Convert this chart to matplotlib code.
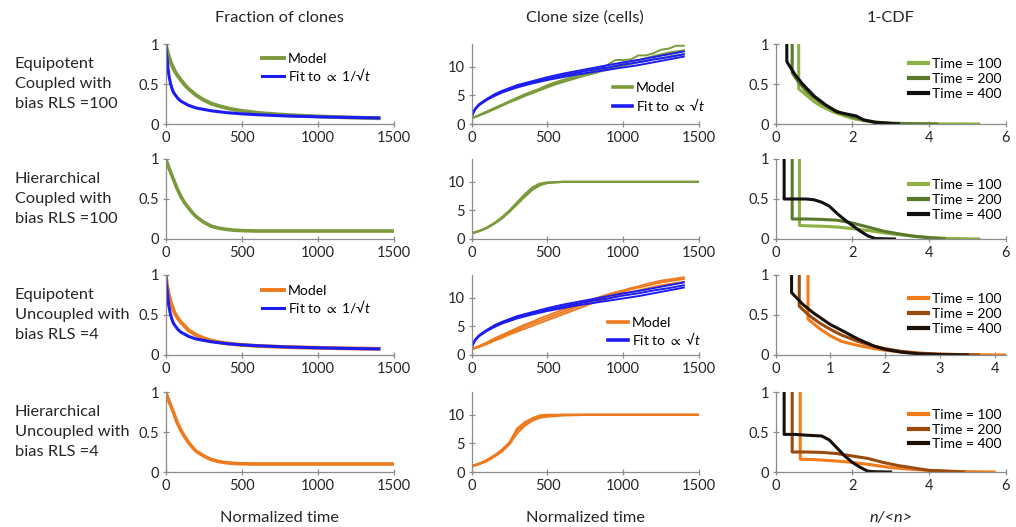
import matplotlib
matplotlib.use("Agg")
import matplotlib.pyplot as plt

plt.rcParams['font.family'] = ['Lato', 'DejaVu Sans']
plt.rcParams['mathtext.fontset'] = 'custom'
plt.rcParams['mathtext.it'] = 'Lato:italic'
plt.rcParams['mathtext.rm'] = 'Lato'
plt.rcParams['mathtext.fallback'] = 'stixsans'

# ---------------- data ----------------
row_labels = ["Equipotent\nCoupled with\nbias RLS =100",
              "Hierarchical\nCoupled with\nbias RLS =100",
              "Equipotent\nUncoupled with\nbias RLS =4",
              "Hierarchical\nUncoupled with\nbias RLS =4"]
col_titles = ["Fraction of clones", "Clone size (cells)", "1-CDF"]
col_xlabels = ["Normalized time", "Normalized time", "n/<n>"]
time_labels = ["Time = 100", "Time = 200", "Time = 400"]
model_label = "Model"
fit_frac_label = r"Fit to $\propto$ 1/√$t$"
fit_size_label = r"Fit to $\propto$ √$t$"

# fraction of clones (column 1)
t_frac = [0, 10, 20, 30, 40, 50, 60, 80, 100, 125, 150, 175, 200, 250, 300,
          350, 400, 450, 500, 600, 700, 800, 900, 1000, 1100, 1200, 1300, 1400]
frac_eq_coupled = [1.0, 0.92, 0.85, 0.79, 0.74, 0.70, 0.66, 0.60, 0.55, 0.49, 0.44,
                   0.40, 0.36, 0.30, 0.255, 0.225, 0.20, 0.18, 0.165, 0.14, 0.125,
                   0.112, 0.103, 0.095, 0.088, 0.082, 0.077, 0.072]
frac_eq_uncoupled = [1.0, 0.85, 0.76, 0.68, 0.62, 0.57, 0.52, 0.46, 0.41, 0.36, 0.31,
                     0.28, 0.25, 0.21, 0.18, 0.16, 0.145, 0.135, 0.126, 0.114, 0.106,
                     0.099, 0.094, 0.090, 0.086, 0.083, 0.080, 0.077]
t_fit = [0, 5, 10, 15, 20, 30, 40, 50, 60, 80, 100, 150, 200, 300, 400, 500,
         600, 800, 1000, 1200, 1400]
frac_fit = [1.0, 0.88, 0.80, 0.70, 0.62, 0.52, 0.45, 0.40, 0.37, 0.32, 0.285,
            0.233, 0.20, 0.165, 0.142, 0.127, 0.116, 0.10, 0.09, 0.082, 0.076]
t_hier = [0, 25, 50, 75, 100, 125, 150, 175, 200, 250, 300, 350, 400, 450, 500, 600, 1500]
frac_hier_coupled = [1.0, 0.87, 0.75, 0.63, 0.53, 0.45, 0.39, 0.33, 0.28, 0.21, 0.16,
                     0.135, 0.12, 0.11, 0.105, 0.10, 0.10]
frac_hier_uncoupled = [1.0, 0.87, 0.75, 0.62, 0.52, 0.44, 0.37, 0.31, 0.26, 0.20, 0.155,
                       0.13, 0.115, 0.107, 0.103, 0.10, 0.10]

# clone size (column 2)
t_size = list(range(0, 1450, 50))
size_eq_coupled = [
    [1.0, 1.6, 2.2, 2.8, 3.4, 4.0, 4.6, 5.2, 5.7, 6.2, 6.8, 7.3, 7.7, 8.1, 8.5, 8.8,
     9.2, 9.7, 10.4, 11.2, 11.2, 11.3, 12.0, 12.0, 12.4, 13.0, 13.2, 13.7, 13.7],
    [1.0, 1.5, 2.1, 2.7, 3.3, 3.9, 4.5, 5.0, 5.5, 6.0, 6.6, 7.0, 7.5, 7.9, 8.3, 8.6,
     9.0, 9.4, 9.8, 10.2, 10.6, 11.0, 11.2, 11.5, 11.9, 12.2, 12.5, 12.7, 12.9],
    [1.0, 1.5, 2.0, 2.6, 3.2, 3.8, 4.3, 4.9, 5.4, 5.9, 6.4, 6.9, 7.3, 7.7, 8.1, 8.5,
     8.8, 9.2, 9.5, 9.9, 10.2, 10.5, 10.8, 11.0, 11.3, 11.5, 11.8, 12.0, 12.2],
]
size_eq_uncoupled = [
    [1.0, 1.6, 2.2, 2.9, 3.5, 4.1, 4.7, 5.3, 5.8, 6.4, 6.9, 7.4, 7.9, 8.3, 8.8, 9.3,
     9.7, 10.2, 10.6, 11.0, 11.3, 11.7, 12.0, 12.4, 12.7, 13.0, 13.2, 13.4, 13.6],
    [1.0, 1.5, 2.1, 2.7, 3.3, 3.9, 4.4, 5.0, 5.5, 6.0, 6.5, 7.0, 7.5, 8.0, 8.5, 9.0,
     9.5, 9.9, 10.3, 10.7, 11.1, 11.5, 11.8, 12.1, 12.4, 12.7, 12.9, 13.1, 13.3],
    [1.0, 1.4, 1.9, 2.5, 3.0, 3.6, 4.1, 4.6, 5.1, 5.6, 6.1, 6.6, 7.1, 7.6, 8.1, 8.6,
     9.1, 9.5, 9.9, 10.3, 10.7, 11.0, 11.3, 11.6, 11.9, 12.2, 12.4, 12.6, 12.8],
]
t_size_fit = [0, 5, 10, 25, 50, 100, 150, 200, 300, 400, 500, 600, 700, 800, 900,
              1000, 1100, 1200, 1300, 1400]
size_fit = [
    [1.1, 1.7, 2.1, 2.8, 3.5, 4.4, 5.2, 5.8, 6.8, 7.5, 8.2, 8.8, 9.3, 9.8, 10.3,
     10.8, 11.2, 11.7, 12.2, 12.7],
    [1.1, 1.6, 2.0, 2.7, 3.4, 4.3, 5.0, 5.6, 6.6, 7.3, 7.9, 8.5, 9.0, 9.5, 9.9,
     10.4, 10.8, 11.3, 11.7, 12.2],
    [1.1, 1.6, 1.9, 2.6, 3.3, 4.2, 4.9, 5.5, 6.4, 7.1, 7.7, 8.2, 8.7, 9.1, 9.5,
     9.9, 10.3, 10.8, 11.3, 11.8],
]
t_size_hier = [0, 50, 100, 150, 200, 250, 300, 350, 400, 450, 500, 600, 750, 1500]
size_hier_coupled = [
    [1.0, 1.4, 2.0, 2.8, 3.8, 5.0, 6.4, 7.8, 9.0, 9.7, 9.9, 10.0, 10.0, 10.0],
    [1.0, 1.4, 1.9, 2.7, 3.6, 4.8, 6.1, 7.4, 8.6, 9.4, 9.8, 10.0, 10.0, 10.0],
]
size_hier_uncoupled = [
    [1.0, 1.4, 2.0, 2.8, 3.8, 5.0, 7.3, 8.4, 9.1, 9.7, 9.9, 10.0, 10.0, 10.0],
    [1.0, 1.4, 1.9, 2.7, 3.6, 4.9, 6.8, 8.1, 9.0, 9.5, 9.7, 9.9, 10.0, 10.0],
    [1.0, 1.5, 2.1, 2.9, 3.9, 5.2, 7.6, 8.7, 9.4, 9.9, 10.0, 10.0, 10.0, 10.0],
]

# 1-CDF of n/<n> (column 3), per row: (x, y) for Time = 100, 200, 400
cdf_eq_coupled = [
    ([0.6, 0.6, 0.8, 1.0, 1.2, 1.5, 1.8, 2.0, 2.3, 2.6, 3.0, 3.5, 4.0, 5.3],
     [1.0, 0.44, 0.36, 0.28, 0.22, 0.15, 0.10, 0.07, 0.04, 0.02, 0.01, 0.005, 0.002, 0.0]),
    ([0.43, 0.43, 0.6, 0.8, 1.0, 1.2, 1.5, 1.8, 2.0, 2.3, 2.6, 3.0, 3.6, 4.2],
     [1.0, 0.64, 0.52, 0.41, 0.33, 0.26, 0.18, 0.12, 0.09, 0.05, 0.025, 0.01, 0.003, 0.0]),
    ([0.29, 0.29, 0.5, 0.7, 1.0, 1.3, 1.6, 1.9, 2.1, 2.3, 2.6, 3.2],
     [1.0, 0.78, 0.62, 0.50, 0.35, 0.24, 0.15, 0.12, 0.10, 0.05, 0.02, 0.0]),
]
cdf_hier_coupled = [
    ([0.62, 0.62, 0.8, 1.2, 1.6, 2.0, 2.5, 3.0, 3.5, 4.0, 4.5, 5.3],
     [1.0, 0.17, 0.165, 0.16, 0.15, 0.13, 0.10, 0.065, 0.04, 0.02, 0.008, 0.0]),
    ([0.43, 0.43, 0.8, 1.2, 1.6, 2.0, 2.4, 2.8, 3.2, 3.6, 4.0, 4.4],
     [1.0, 0.25, 0.25, 0.245, 0.235, 0.20, 0.15, 0.10, 0.065, 0.035, 0.015, 0.0]),
    ([0.22, 0.22, 0.5, 0.8, 1.0, 1.2, 1.4, 1.6, 1.8, 2.0, 2.2, 2.4, 2.6, 3.1],
     [1.0, 0.50, 0.50, 0.50, 0.49, 0.46, 0.41, 0.32, 0.24, 0.17, 0.10, 0.04, 0.005, 0.0]),
]
cdf_eq_uncoupled = [
    ([0.59, 0.59, 0.8, 1.0, 1.2, 1.5, 1.8, 2.0, 2.3, 2.6, 3.0, 3.5, 4.2],
     [1.0, 0.45, 0.33, 0.24, 0.17, 0.12, 0.08, 0.06, 0.035, 0.02, 0.01, 0.004, 0.0]),
    ([0.43, 0.43, 0.6, 0.8, 1.0, 1.2, 1.5, 1.8, 2.0, 2.3, 2.6, 3.0, 3.7],
     [1.0, 0.61, 0.50, 0.40, 0.32, 0.25, 0.17, 0.11, 0.08, 0.045, 0.025, 0.01, 0.0]),
    ([0.29, 0.29, 0.5, 0.7, 1.0, 1.2, 1.5, 1.8, 2.0, 2.3, 2.6, 3.0, 3.5],
     [1.0, 0.78, 0.63, 0.52, 0.38, 0.31, 0.20, 0.11, 0.07, 0.035, 0.015, 0.005, 0.0]),
]
cdf_hier_uncoupled = [
    ([0.64, 0.64, 1.0, 1.5, 2.0, 2.5, 3.0, 3.5, 4.0, 4.5, 5.0, 5.7],
     [1.0, 0.16, 0.155, 0.14, 0.12, 0.09, 0.055, 0.035, 0.02, 0.01, 0.004, 0.0]),
    ([0.43, 0.43, 0.8, 1.2, 1.6, 2.0, 2.4, 2.8, 3.2, 3.6, 4.0, 4.9],
     [1.0, 0.25, 0.25, 0.245, 0.23, 0.20, 0.17, 0.12, 0.08, 0.05, 0.02, 0.0]),
    ([0.22, 0.22, 0.5, 0.8, 1.2, 1.4, 1.6, 1.8, 2.0, 2.2, 2.4, 2.6, 3.0],
     [1.0, 0.47, 0.47, 0.46, 0.45, 0.40, 0.30, 0.20, 0.12, 0.06, 0.01, 0.003, 0.0]),
]

# ---------------- style ----------------
GREEN = "#7b9a3c"
ORANGE = "#ee7a1e"
BLUE = "#1c1cf2"
GREENS = ["#8db243", "#587a2a", "#101010"]
ORANGES = ["#f27b1a", "#9a4a0c", "#1a1008"]
SPINE = "#8c8c8c"
TXT = "#262626"
LW = 2.2

fig = plt.figure(figsize=(10.16, 5.27), dpi=100)
W, H = 1016, 527

col_x = [165.7, 471.7, 775.7]
col_w = [228.3, 227.3, 230.0]
row_top = [44, 159, 275, 392]
row_h = 80

axes = []
for r in range(4):
    row = []
    for c in range(3):
        ax = fig.add_axes([col_x[c] / W, 1 - (row_top[r] + row_h) / H,
                           col_w[c] / W, row_h / H])
        for s in ("top", "right"):
            ax.spines[s].set_visible(False)
        for s in ("left", "bottom"):
            ax.spines[s].set_color(SPINE)
            ax.spines[s].set_linewidth(0.9)
        ax.tick_params(direction="inout", length=4, width=0.9, color=SPINE,
                       labelsize=10.5, labelcolor=TXT, pad=3)
        row.append(ax)
    axes.append(row)

for r in range(4):
    ax = axes[r][0]
    ax.set_xlim(0, 1500)
    ax.set_ylim(0, 1)
    ax.set_xticks([0, 500, 1000, 1500])
    ax.set_yticks([0, 0.5, 1])
    ax.set_yticklabels(["0", "0.5", "1"])
    ax = axes[r][1]
    ax.set_xlim(0, 1500)
    ax.set_ylim(0, 14)
    ax.set_xticks([0, 500, 1000, 1500])
    ax.set_yticks([0, 5, 10])
    ax = axes[r][2]
    ax.set_ylim(0, 1)
    ax.set_yticks([0, 0.5, 1])
    ax.set_yticklabels(["0", "0.5", "1"])
    if r == 2:
        ax.set_xlim(0, 4.2)
        ax.set_xticks([0, 1, 2, 3, 4])
    else:
        ax.set_xlim(0, 6)
        ax.set_xticks([0, 2, 4, 6])


def add_legend(ax, x, y, hl, spacing=0.12):
    return ax.legend(loc="upper left", bbox_to_anchor=(x, y), frameon=False,
                     fontsize=10, handlelength=hl, handletextpad=0.3,
                     labelspacing=spacing, borderaxespad=0, borderpad=0)


# ---- column 1 : fraction of clones
ax = axes[0][0]
ax.plot(t_frac, frac_eq_coupled, color=GREEN, lw=LW + 0.6, label=model_label)
ax.plot(t_fit, frac_fit, color=BLUE, lw=LW, label=fit_frac_label)
add_legend(ax, 0.42, 0.89, 1.6)

ax = axes[1][0]
ax.plot(t_hier, frac_hier_coupled, color=GREEN, lw=LW + 0.4)

ax = axes[2][0]
ax.plot(t_frac, frac_eq_uncoupled, color=ORANGE, lw=LW + 0.6, label=model_label)
ax.plot(t_fit, frac_fit, color=BLUE, lw=LW, label=fit_frac_label)
add_legend(ax, 0.42, 0.88, 1.6)

ax = axes[3][0]
ax.plot(t_hier, frac_hier_uncoupled, color=ORANGE, lw=LW + 0.4)

# ---- column 2 : clone size
ax = axes[0][1]
for i, y in enumerate(size_eq_coupled):
    ax.plot(t_size, y, color=GREEN, lw=1.4, label=model_label if i == 0 else None)
for i, y in enumerate(size_fit):
    ax.plot(t_size_fit, y, color=BLUE, lw=1.4, label=fit_size_label if i == 0 else None)
add_legend(ax, 0.62, 0.525, 1.4)
for h in ax.get_legend().legend_handles:
    h.set_linewidth(2.6)

ax = axes[1][1]
for y in size_hier_coupled:
    ax.plot(t_size_hier, y, color=GREEN, lw=1.6)

ax = axes[2][1]
for i, y in enumerate(size_eq_uncoupled):
    ax.plot(t_size, y, color=ORANGE, lw=1.4, label=model_label if i == 0 else None)
for i, y in enumerate(size_fit):
    ax.plot(t_size_fit, y, color=BLUE, lw=1.4, label=fit_size_label if i == 0 else None)
add_legend(ax, 0.60, 0.48, 1.4)
for h in ax.get_legend().legend_handles:
    h.set_linewidth(2.6)

ax = axes[3][1]
for y in size_hier_uncoupled:
    ax.plot(t_size_hier, y, color=ORANGE, lw=1.6)

# ---- column 3 : 1-CDF
cdf_rows = [(cdf_eq_coupled, GREENS), (cdf_hier_coupled, GREENS),
            (cdf_eq_uncoupled, ORANGES), (cdf_hier_uncoupled, ORANGES)]
leg_y = [0.825, 0.75, 0.775, 0.79]
for r, (curves, cols) in enumerate(cdf_rows):
    ax = axes[r][2]
    for (x, y), col, lab in zip(curves, cols, time_labels):
        ax.plot(x, y, color=col, lw=LW, label=lab)
    leg = add_legend(ax, 0.58, leg_y[r], 1.35, spacing=0.2)
    for h in leg.legend_handles:
        h.set_linewidth(3)

# ---- texts
FS = 11.8
title_y = 1 - 18 / H
for c, title in enumerate(col_titles):
    fig.text((col_x[c] + col_w[c] / 2) / W, title_y, title, ha="center", va="center",
             fontsize=FS, color=TXT)
xlab_y = 1 - 518 / H
for c, lab in enumerate(col_xlabels):
    fig.text((col_x[c] + col_w[c] / 2) / W, xlab_y, lab, ha="center", va="center",
             fontsize=FS, color=TXT, fontstyle="italic" if c == 2 else "normal")
for r, lab in enumerate(row_labels):
    fig.text(15 / W, 1 - (row_top[r] + row_h / 2) / H, lab, ha="left", va="center",
             fontsize=FS, color=TXT, linespacing=1.55)

fig.savefig("out.png", dpi=100)
